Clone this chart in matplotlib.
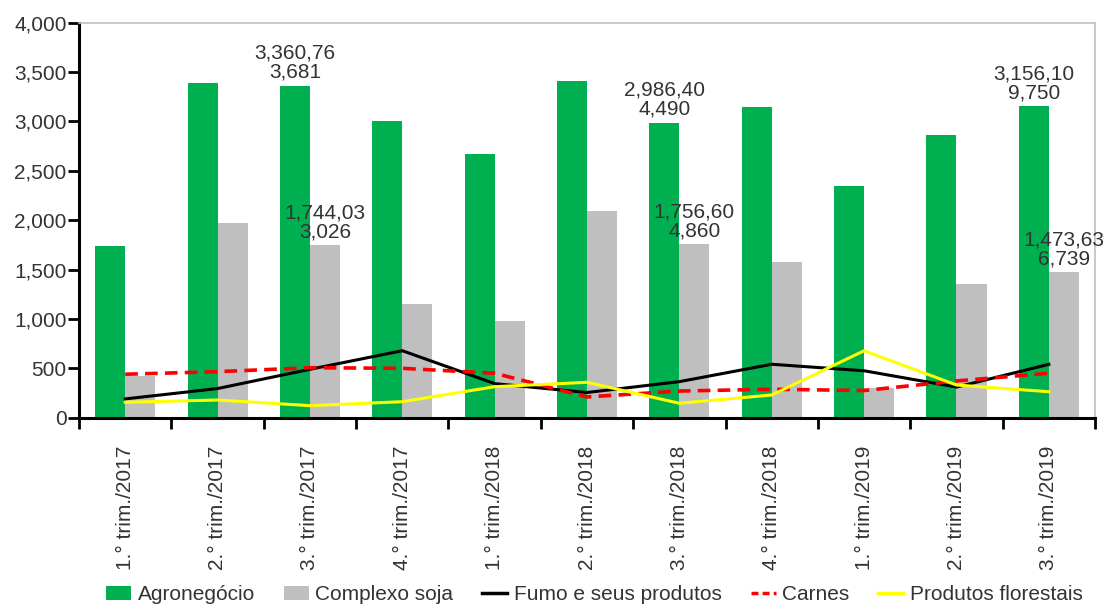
import numpy as np
import matplotlib.pyplot as plt
from matplotlib.lines import Line2D
from matplotlib.patches import Patch

plt.rcParams['font.family'] = ['Liberation Sans', 'DejaVu Sans']

categories = ["1.° trim./2017", "2.° trim./2017", "3.° trim./2017", "4.° trim./2017",
              "1.° trim./2018", "2.° trim./2018", "3.° trim./2018", "4.° trim./2018",
              "1.° trim./2019", "2.° trim./2019", "3.° trim./2019"]

agro = [1740, 3390, 3360.76, 3000, 2670, 3410, 2986.40, 3150, 2350, 2860, 3156.10]
soja = [425, 1975, 1744.03, 1150, 975, 2095, 1756.60, 1575, 300, 1355, 1473.63]
fumo = [190, 295, 490, 678, 345, 255, 365, 541, 475, 310, 540]
carnes = [440, 466, 506, 500, 450, 210, 270, 288, 275, 372, 450]
florestais = [156, 179, 122, 162, 314, 358, 146, 230, 678, 331, 263]

# labels as printed in the source, only on some bars
agro_labels = {2: "3,360,76\n3,681", 6: "2,986,40\n4,490", 10: "3,156,10\n9,750"}
soja_labels = {2: "1,744,03\n3,026", 6: "1,756,60\n4,860", 10: "1,473,63\n6,739"}

GREEN = "#00B050"
GREY = "#BFBFBF"
TXT = "#333333"
FS = 15

fig = plt.figure(figsize=(11.07, 6.05), dpi=100)
ax = fig.add_axes([0.0714, 0.3096, 0.9178, 0.653])

x = np.arange(len(categories))
w = 0.325
ax.bar(x - w/2, agro, w, color=GREEN, zorder=2)
ax.bar(x + w/2, soja, w, color=GREY, zorder=2)
ax.plot(x, fumo, color="black", lw=2.2, zorder=3)
ax.plot(x, carnes, color="#FF0000", lw=2.6, ls=(0, (3.5, 2)), zorder=3)
ax.plot(x, florestais, color="#FFFF00", lw=2.2, zorder=3)

for i, t in agro_labels.items():
    ax.text(x[i] - w/2, agro[i] + 40, t, ha="center", va="bottom", fontsize=FS,
            color=TXT, linespacing=1.0, clip_on=False, zorder=4)
for i, t in soja_labels.items():
    ax.text(x[i] + w/2, soja[i] + 40, t, ha="center", va="bottom", fontsize=FS,
            color=TXT, linespacing=1.0, clip_on=False, zorder=4)

ax.set_xlim(-0.5, len(categories) - 0.5)
ax.set_ylim(0, 4000)
ax.set_yticks(np.arange(0, 4001, 500))
ax.set_yticklabels([f"{v:,}" for v in range(0, 4001, 500)], fontsize=FS, color=TXT)

# category ticks between groups, labels at group centres
ax.set_xticks(np.arange(-0.5, len(categories), 1.0))
ax.set_xticklabels([])
ax.set_xticks(x, minor=True)
ax.set_xticklabels(categories, minor=True, rotation=90, fontsize=FS, color=TXT)
ax.tick_params(axis="x", which="minor", length=0, pad=20)
ax.tick_params(axis="x", which="major", length=8, width=2, color="black")
ax.tick_params(axis="y", length=8, width=2, color="black", pad=1)

for s in ["left", "bottom"]:
    ax.spines[s].set_linewidth(2.2)
    ax.spines[s].set_color("black")
for s in ["top", "right"]:
    ax.spines[s].set_linewidth(1.2)
    ax.spines[s].set_color("#C0C0C0")

handles = [
    Patch(facecolor=GREEN, label="Agronegócio"),
    Patch(facecolor=GREY, label="Complexo soja"),
    Line2D([], [], color="black", lw=2.5, label="Fumo e seus produtos"),
    Line2D([], [], color="#FF0000", lw=2.5, ls=(0, (2, 1.2)), label="Carnes"),
    Line2D([], [], color="#FFFF00", lw=2.5, label="Produtos florestais"),
]
fig.legend(handles=handles, loc="lower center", bbox_to_anchor=(0.537, -0.03), ncol=5,
           frameon=False, fontsize=FS, handlelength=1.2, handletextpad=0.3,
           columnspacing=1.4, labelcolor=TXT)

fig.savefig("out.png", dpi=100)
